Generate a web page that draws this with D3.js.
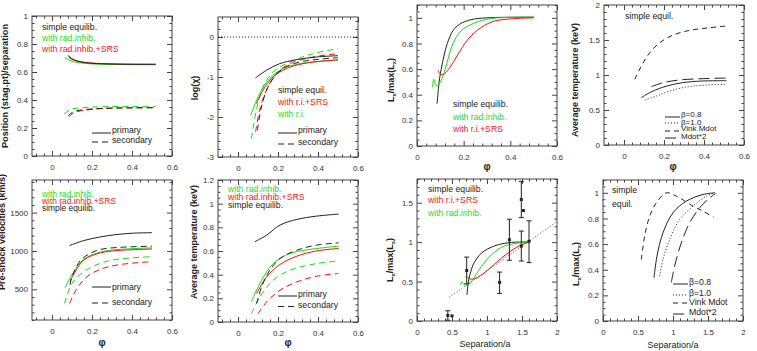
<!DOCTYPE html>
<html>
<head>
<meta charset="utf-8">
<script src="https://cdn.jsdelivr.net/npm/d3@7"></script>
<style>
  body { margin: 0; background: #fff; }
  svg { font-family: "Liberation Sans", Arial, sans-serif; }
  .tick text { fill: #333; font-size: 8px; }
  .tick line { stroke: #444; }
</style>
</head>
<body>
<div id="graf"></div>
<script>
//#######################################
//   datos
//#######################################

// panel 1 : punto de estancamiento / separacion vs phi
const stagSimplePri = [[0.08,0.72],[0.09,0.70],[0.11,0.685],[0.15,0.67],[0.2,0.662],[0.3,0.657],[0.4,0.655],[0.52,0.655]]
const stagRadPri    = [[0.065,0.705],[0.08,0.69],[0.1,0.677],[0.15,0.664],[0.2,0.658],[0.3,0.654],[0.52,0.652]]
const stagSrsPri    = [[0.085,0.715],[0.1,0.695],[0.13,0.678],[0.2,0.664],[0.3,0.658],[0.52,0.655]]
const stagSimpleSec = [[0.08,0.285],[0.1,0.31],[0.13,0.325],[0.2,0.336],[0.3,0.342],[0.52,0.345]]
const stagRadSec    = [[0.06,0.30],[0.08,0.32],[0.1,0.335],[0.15,0.345],[0.25,0.352],[0.52,0.355]]
const stagSrsSec    = [[0.085,0.28],[0.1,0.30],[0.13,0.318],[0.2,0.333],[0.3,0.342],[0.52,0.345]]

// panel 2 : log(chi)
const chiSimplePri = [[0.087,-1.025],[0.142,-0.833],[0.208,-0.667],[0.292,-0.567],[0.392,-0.5],[0.5,-0.467]]
const chiSimpleSec = [[0.097,-2.33],[0.117,-1.75],[0.158,-1.17],[0.225,-0.79],[0.308,-0.625],[0.4,-0.56],[0.5,-0.517]]
const chiRadPri    = [[0.063,-1.96],[0.108,-1.42],[0.158,-1.04],[0.225,-0.79],[0.308,-0.667],[0.4,-0.61],[0.5,-0.583]]
const chiRadSec    = [[0.067,-2.54],[0.092,-1.83],[0.125,-1.25],[0.175,-0.875],[0.258,-0.625],[0.375,-0.417],[0.5,-0.29]]
const chiSrsPri    = [[0.092,-1.67],[0.125,-1.33],[0.175,-1.0],[0.242,-0.79],[0.325,-0.667],[0.5,-0.567]]
const chiSrsSec    = [[0.088,-2.375],[0.108,-1.83],[0.142,-1.33],[0.192,-0.917],[0.258,-0.667],[0.375,-0.5],[0.5,-0.417]]

// panel 3 : Lx/max(Lx) vs phi
const lxPhiSimple = [[0.086,0.33],[0.092,0.45],[0.097,0.53],[0.104,0.6],[0.115,0.7],[0.13,0.8],[0.154,0.9],[0.183,0.95],[0.23,0.985],[0.3,1.0],[0.5,1.005]]
const lxPhiRad    = [[0.066,0.46],[0.072,0.52],[0.079,0.48],[0.088,0.47],[0.1,0.5],[0.11,0.54],[0.121,0.6],[0.136,0.7],[0.154,0.8],[0.19,0.9],[0.247,0.96],[0.32,0.995],[0.5,1.005]]
const lxPhiSrs    = [[0.09,0.59],[0.097,0.565],[0.104,0.555],[0.119,0.566],[0.14,0.61],[0.176,0.716],[0.219,0.834],[0.276,0.926],[0.333,0.975],[0.433,0.995],[0.5,1.0]]

// panel 4 : temperatura media, equilibrio simple
const tempBeta08 = [[0.087,0.676],[0.129,0.748],[0.179,0.81],[0.263,0.876],[0.363,0.91],[0.513,0.919]]
const tempBeta10 = [[0.104,0.643],[0.162,0.7],[0.229,0.771],[0.313,0.829],[0.413,0.857],[0.513,0.867]]
const tempVink   = [[0.054,0.938],[0.087,1.129],[0.129,1.319],[0.179,1.462],[0.246,1.571],[0.329,1.638],[0.43,1.676],[0.513,1.7]]
const tempMdot2  = [[0.137,0.833],[0.196,0.89],[0.279,0.929],[0.396,0.948],[0.513,0.957]]

// panel 5 : velocidades pre-choque (km/s)
const velSimplePri = [[0.087,1070],[0.158,1135],[0.242,1183],[0.325,1215],[0.408,1232],[0.5,1238]]
const velSimpleSec = [[0.09,560],[0.1,665],[0.142,874],[0.192,970],[0.242,1020],[0.325,1045],[0.5,1062]]
const velRadPri    = [[0.065,520],[0.1,690],[0.158,891],[0.242,985],[0.325,1018],[0.5,1040]]
const velSrsPri    = [[0.09,600],[0.11,700],[0.158,880],[0.242,975],[0.325,1005],[0.5,1025]]
const velRadSec    = [[0.063,317],[0.1,578],[0.158,730],[0.242,839],[0.325,891],[0.5,926]]
const velSrsSec    = [[0.088,317],[0.125,513],[0.175,665],[0.242,761],[0.325,817],[0.5,861]]

// panel 6 : temperatura media (keV)
const tkSimplePri = [[0.084,0.678],[0.143,0.734],[0.21,0.819],[0.294,0.867],[0.394,0.895],[0.503,0.912]]
const tkSimpleSec = [[0.093,0.155],[0.118,0.297],[0.16,0.44],[0.21,0.537],[0.294,0.607],[0.394,0.65],[0.503,0.669]]
const tkRadPri    = [[0.067,0.17],[0.118,0.353],[0.176,0.494],[0.26,0.579],[0.394,0.621],[0.503,0.641]]
const tkSrsPri    = [[0.093,0.24],[0.143,0.381],[0.21,0.486],[0.294,0.556],[0.394,0.601],[0.503,0.621]]
const tkRadSec    = [[0.067,0.07],[0.109,0.21],[0.176,0.353],[0.26,0.438],[0.394,0.494],[0.503,0.517]]
const tkSrsSec    = [[0.1,0.07],[0.143,0.17],[0.21,0.268],[0.294,0.339],[0.394,0.387],[0.503,0.41]]

// panel 7 : Lx vs separacion, con observaciones
const lxSepSimple = [[0.714,0.33],[0.738,0.52],[0.77,0.63],[0.8,0.71],[0.919,0.86],[1.11,0.953],[1.348,0.996],[1.6,1.0]]
const lxSepRad    = [[0.62,0.46],[0.64,0.5],[0.66,0.47],[0.705,0.455],[0.776,0.5],[0.919,0.69],[1.062,0.839],[1.252,0.953],[1.6,1.0]]
const lxSepSrs    = [[0.705,0.57],[0.74,0.545],[0.776,0.53],[0.871,0.555],[1.014,0.648],[1.205,0.797],[1.443,0.945],[1.6,1.0]]
const obsSep = [0.44, 0.50, 0.71, 1.18, 1.32, 1.49, 1.52, 1.49, 1.60]
const obsLx  = [0.07, 0.065, 0.64, 0.49, 1.03, 1.54, 1.40, 0.95, 1.01]
const obsLo  = [0.01, null, 0.47, 0.35, 0.77, 1.31, null, 0.76, 0.74]
const obsHi  = [0.13, null, 0.81, 0.62, 1.29, 1.77, null, 1.14, 1.27]
const trendSep = [0.46, 2.0]
const trendLx  = [0.30, 1.26]

// panel 8 : Lx vs separacion, equilibrio simple
const sepBeta08 = [[0.729,0.338],[0.771,0.506],[0.857,0.688],[1.0,0.844],[1.19,0.935],[1.429,0.987],[1.6,1.0]]
const sepBeta10 = [[0.81,0.35],[0.857,0.48],[0.952,0.636],[1.095,0.792],[1.286,0.896],[1.476,0.974],[1.6,1.0]]
const sepVink   = [[0.548,0.48],[0.595,0.662],[0.667,0.818],[0.762,0.922],[0.905,1.0],[1.048,0.974],[1.286,0.896],[1.429,0.857],[1.581,0.81]]
const sepMdot2  = [[0.976,0.3],[1.024,0.43],[1.119,0.61],[1.238,0.766],[1.381,0.883],[1.524,0.961],[1.61,0.995]]

// marcas de los ejes
const phiTicks = [0, 0.2, 0.4, 0.6]
const sepTicks = [0, 0.5, 1, 1.5, 2]
const fracTicks = [0, 0.2, 0.4, 0.6, 0.8, 1]
const chiTicks = [-3, -2, -1, 0]
const keV2Ticks = [0, 0.5, 1, 1.5, 2]
const velTicks = [500, 1000, 1500]
const keV12Ticks = [0, 0.2, 0.4, 0.6, 0.8, 1, 1.2]
const lxObsTicks = [0, 0.5, 1, 1.5]

//#######################################
//   estilos
//#######################################
const BLACK = "#222"
const RED = "#f01010"
const GREEN = "#10e010"
const RED_TXT = "#ee2222"
const GREEN_TXT = "#22dd22"
const DASH = "6,4"
const SHORT = "5,4"
const LONG = "11,5"
const DOT = "1,2"

const svg = d3.select("#graf").append("svg")
  .attr("width", 757)
  .attr("height", 351)

const fmt = d => String(+d.toFixed(2))

// marco con marcas hacia adentro en los cuatro lados
const frame = (box, xDom, yDom, xt, xm, yt, ym) => {
  const [left, top, w, h] = box
  const x = d3.scaleLinear().domain(xDom).range([left, left + w])
  const y = d3.scaleLinear().domain(yDom).range([top + h, top])
  const g = svg.append("g")

  const minors = (dom, step, majors) => d3.range(Math.ceil(dom[0] / step - 1e-6) * step, dom[1] + 1e-6, step)
    .filter(v => !majors.some(m => Math.abs(m - v) < 1e-6))

  const put = (axis, tx, ty) => {
    const a = g.append("g").attr("transform", `translate(${tx},${ty})`).call(axis)
    a.select(".domain").remove()
    return a
  }
  const xIn = xt.filter(v => v >= xDom[0] - 1e-9 && v <= xDom[1] + 1e-9)
  const yIn = yt.filter(v => v >= yDom[0] - 1e-9 && v <= yDom[1] + 1e-9)
  const xmin = minors(xDom, xm, xt)
  const ymin = minors(yDom, ym, yt)

  put(d3.axisBottom(x).tickValues(xIn).tickSize(-5).tickPadding(8).tickFormat(fmt), 0, top + h)
  put(d3.axisTop(x).tickValues(xIn).tickSize(-5).tickFormat(""), 0, top)
  put(d3.axisBottom(x).tickValues(xmin).tickSize(-2.5).tickFormat(""), 0, top + h)
  put(d3.axisTop(x).tickValues(xmin).tickSize(-2.5).tickFormat(""), 0, top)
  put(d3.axisLeft(y).tickValues(yIn).tickSize(-5).tickPadding(4).tickFormat(fmt), left, 0)
  put(d3.axisRight(y).tickValues(yIn).tickSize(-5).tickFormat(""), left + w, 0)
  put(d3.axisLeft(y).tickValues(ymin).tickSize(-2.5).tickFormat(""), left, 0)
  put(d3.axisRight(y).tickValues(ymin).tickSize(-2.5).tickFormat(""), left + w, 0)

  g.append("rect")
    .attr("x", left).attr("y", top).attr("width", w).attr("height", h)
    .attr("fill", "none").attr("stroke", "#444").attr("stroke-width", 1)

  return { g, x, y }
}

const curve = (p, pts, color, dash) => {
  const line = d3.line()
    .x(d => p.x(d[0]))
    .y(d => p.y(d[1]))
    .curve(d3.curveCatmullRom.alpha(0.5))
  p.g.append("path")
    .attr("d", line(pts))
    .attr("fill", "none")
    .attr("stroke", color)
    .attr("stroke-width", 1)
    .attr("stroke-dasharray", dash || null)
}

const label = (x, y, txt, color, size, weight) => svg.append("text")
  .attr("x", x).attr("y", y)
  .attr("fill", color || BLACK)
  .attr("font-size", size || 8.7)
  .attr("font-weight", weight || "normal")
  .text(txt)

const legLine = (x1, x2, y, dash) => svg.append("line")
  .attr("x1", x1).attr("x2", x2).attr("y1", y).attr("y2", y)
  .attr("stroke", BLACK).attr("stroke-width", 1)
  .attr("stroke-dasharray", dash || null)

const yTitle = (x, y, size) => svg.append("text")
  .attr("transform", `translate(${x},${y}) rotate(-90)`)
  .attr("text-anchor", "middle")
  .attr("font-size", size || 9)
  .attr("font-weight", "bold")
  .attr("fill", BLACK)

const lxTitle = (x, y) => {
  const t = yTitle(x, y, 9)
  t.append("tspan").text("L")
  t.append("tspan").attr("dy", 2).attr("font-size", 6).text("x")
  t.append("tspan").attr("dy", -2).text("/max(L")
  t.append("tspan").attr("dy", 2).attr("font-size", 6).text("x")
  t.append("tspan").attr("dy", -2).text(")")
}

const xTitle = (x, y, txt, size, weight) => svg.append("text")
  .attr("x", x).attr("y", y)
  .attr("text-anchor", "middle")
  .attr("font-size", size)
  .attr("font-weight", weight)
  .attr("fill", BLACK)
  .text(txt)

//#######################################
//   panel 1
//#######################################
const p1 = frame([32, 16, 140, 140], [-0.1, 0.6], [0, 1], phiTicks, 0.04, fracTicks, 0.05)
curve(p1, stagRadPri, GREEN)
curve(p1, stagSrsPri, RED)
curve(p1, stagSimplePri, BLACK)
curve(p1, stagRadSec, GREEN, DASH)
curve(p1, stagSrsSec, RED, DASH)
curve(p1, stagSimpleSec, BLACK, DASH)
label(42, 30, "simple equilib.")
label(42, 41, "with rad.inhib.", GREEN_TXT)
label(42, 52, "with rad.inhib.+SRS", RED_TXT)
legLine(92, 111, 133)
legLine(92, 111, 142, DASH)
label(112, 133, "primary")
label(112, 143, "secondary")
yTitle(8, 86, 9.2).text("Position (stag.pt)/separation")

//#######################################
//   panel 2
//#######################################
const p2 = frame([218, 17, 140, 140], [-0.1, 0.6], [-3, 0.5], phiTicks, 0.04, chiTicks, 0.2)
p2.g.append("line")
  .attr("x1", p2.x(-0.1)).attr("x2", p2.x(0.6))
  .attr("y1", p2.y(0)).attr("y2", p2.y(0))
  .attr("stroke", BLACK).attr("stroke-dasharray", DOT)
curve(p2, chiRadSec, GREEN, DASH)
curve(p2, chiRadPri, GREEN)
curve(p2, chiSrsPri, RED)
curve(p2, chiSrsSec, RED, DASH)
curve(p2, chiSimplePri, BLACK)
curve(p2, chiSimpleSec, BLACK, DASH)
label(278, 93, "simple equil.")
label(278, 105, "with r.i.+SRS", RED_TXT)
label(278, 117, "with r.i.", GREEN_TXT)
legLine(278, 297, 133)
legLine(278, 297, 144, DASH)
label(298, 133, "primary")
label(298, 145, "secondary")
yTitle(198, 88, 9).text("log(χ)")

//#######################################
//   panel 3
//#######################################
const p3 = frame([417, 5, 140, 141], [0, 0.6], [0, 1.1], phiTicks, 0.04, fracTicks, 0.05)
curve(p3, lxPhiSimple, BLACK)
curve(p3, lxPhiRad, GREEN)
curve(p3, lxPhiSrs, RED)
label(453, 107, "simple equilib.")
label(453, 120, "with rad.inhib.", GREEN_TXT)
label(453, 132, "with r.i.+SRS", RED_TXT)
lxTitle(394, 80)
xTitle(487, 170, "φ", 10, "bold")

//#######################################
//   panel 4
//#######################################
const p4 = frame([604, 5, 140, 140], [-0.1, 0.6], [0, 2], phiTicks, 0.04, keV2Ticks, 0.1)
curve(p4, tempVink, BLACK, SHORT)
curve(p4, tempBeta08, BLACK)
curve(p4, tempBeta10, BLACK, DOT)
curve(p4, tempMdot2, BLACK, LONG)
label(625, 19, "simple equil.")
legLine(665, 680, 117)
legLine(665, 680, 123, DOT)
legLine(665, 680, 131, SHORT)
legLine(665, 680, 138, LONG)
label(681, 117, "β=0.8", BLACK, 8)
label(681, 124.5, "β=1.0", BLACK, 8)
label(681, 131, "Vink Mdot", BLACK, 8)
label(681, 138.5, "Mdot*2", BLACK, 8)
yTitle(578, 80, 9).text("Average temperature (keV)")
xTitle(673, 170, "φ", 10, "bold")

//#######################################
//   panel 5
//#######################################
const p5 = frame([32, 180, 140, 140], [-0.1, 0.6], [100, 1925], phiTicks, 0.04, velTicks, 100)
curve(p5, velRadSec, GREEN, DASH)
curve(p5, velSrsSec, RED, DASH)
curve(p5, velRadPri, GREEN)
curve(p5, velSrsPri, RED)
curve(p5, velSimpleSec, BLACK, DASH)
curve(p5, velSimplePri, BLACK)
label(42, 196.5, "with rad.inhib.", GREEN_TXT, 8.4)
label(42, 203.5, "with rad.inhib.+SRS", RED_TXT, 8.4)
label(42, 211, "simple equilib.", BLACK, 8.4)
legLine(92, 111, 287)
legLine(92, 111, 303, DASH)
label(112, 290, "primary")
label(112, 305, "secondary")
yTitle(5, 232, 9).text("Pre-shock velocities (km/s)")
xTitle(102, 346, "φ", 10, "bold")

//#######################################
//   panel 6
//#######################################
const p6 = frame([218, 180, 140, 142], [-0.1, 0.6], [0, 1.2], phiTicks, 0.04, keV12Ticks, 0.05)
curve(p6, tkRadSec, GREEN, DASH)
curve(p6, tkSrsSec, RED, DASH)
curve(p6, tkRadPri, GREEN)
curve(p6, tkSrsPri, RED)
curve(p6, tkSimpleSec, BLACK, DASH)
curve(p6, tkSimplePri, BLACK)
label(228, 191.5, "with rad.inhib.", GREEN_TXT)
label(228, 200, "with rad.inhib.+SRS", RED_TXT)
label(228, 208, "simple equilib.")
legLine(278, 297, 296)
legLine(278, 297, 306.5, DASH)
label(298, 297, "primary")
label(298, 308, "secondary")
yTitle(197, 242, 9).text("Average temperature (keV)")
xTitle(288, 346, "φ", 10, "bold")

//#######################################
//   panel 7
//#######################################
const p7 = frame([417, 179, 140, 142], [0, 2], [0, 1.8], sepTicks, 0.1, lxObsTicks, 0.1)
p7.g.append("line")
  .attr("x1", p7.x(trendSep[0])).attr("x2", p7.x(trendSep[1]))
  .attr("y1", p7.y(trendLx[0])).attr("y2", p7.y(trendLx[1]))
  .attr("stroke", "#555").attr("stroke-dasharray", DOT)
curve(p7, lxSepSimple, BLACK)
curve(p7, lxSepRad, GREEN)
curve(p7, lxSepSrs, RED)

const obs = obsSep.map((s, i) => ({ s, v: obsLx[i], lo: obsLo[i], hi: obsHi[i] }))
const bars = p7.g.selectAll(".err").data(obs.filter(d => d.lo !== null)).enter().append("g")
bars.append("line")
  .attr("x1", d => p7.x(d.s)).attr("x2", d => p7.x(d.s))
  .attr("y1", d => p7.y(d.lo)).attr("y2", d => p7.y(d.hi))
  .attr("stroke", BLACK)
bars.append("line")
  .attr("x1", d => p7.x(d.s) - 2.5).attr("x2", d => p7.x(d.s) + 2.5)
  .attr("y1", d => p7.y(d.lo)).attr("y2", d => p7.y(d.lo))
  .attr("stroke", BLACK)
bars.append("line")
  .attr("x1", d => p7.x(d.s) - 2.5).attr("x2", d => p7.x(d.s) + 2.5)
  .attr("y1", d => p7.y(d.hi)).attr("y2", d => p7.y(d.hi))
  .attr("stroke", BLACK)
p7.g.selectAll(".pt").data(obs).enter().append("rect")
  .attr("x", d => p7.x(d.s) - 1.5).attr("y", d => p7.y(d.v) - 1.5)
  .attr("width", 3).attr("height", 3)
  .attr("fill", BLACK)
label(428, 191.5, "simple equilib.")
label(428, 203, "with r.i.+SRS", RED_TXT)
label(428, 215.5, "with rad.inhib.", GREEN_TXT)
lxTitle(393, 260)
xTitle(485, 347, "Separation/a", 9, "normal")

//#######################################
//   panel 8
//#######################################
const p8 = frame([603, 180, 140, 141], [0, 2], [0, 1.1], sepTicks, 0.1, fracTicks, 0.05)
curve(p8, sepVink, BLACK, SHORT)
curve(p8, sepBeta08, BLACK)
curve(p8, sepBeta10, BLACK, DOT)
curve(p8, sepMdot2, BLACK, LONG)
label(612, 193, "simple")
label(612, 206.5, "equil.")
legLine(673, 688, 284)
legLine(673, 688, 295, DOT)
legLine(673, 688, 303, SHORT)
legLine(673, 688, 314, LONG)
label(689, 285, "β=0.8")
label(689, 296, "β=1.0")
label(689, 305, "Vink Mdot")
label(689, 315, "Mdot*2")
lxTitle(579, 264)
xTitle(673, 348, "Separation/a", 9, "normal")
</script>
</body>
</html>
